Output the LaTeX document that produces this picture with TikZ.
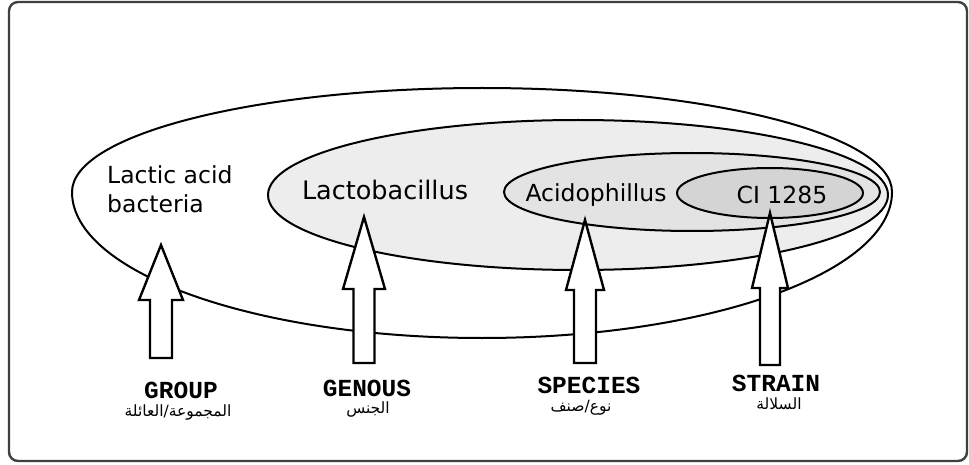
\documentclass[tikz,border=0pt]{standalone}
\usepackage{fontspec}
\setmainfont{DejaVu Sans}
\newfontfamily\labelfont{Liberation Mono}
\newfontfamily\arabicfont[Script=Arabic]{DejaVu Sans}
\TeXXeTstate=1
\begin{document}
\begin{tikzpicture}[x=1pt,y=-1pt,
  ell/.style={draw=black,line width=2pt},
  blockarrow/.style={draw=black,fill=white,line width=2.4pt,line join=miter},
  eltext/.style={inner sep=0pt,font=\fontsize{23.5}{29}\selectfont},
  cat/.style={inner sep=0pt,font=\labelfont\bfseries\fontsize{24.5}{26}\selectfont},
  arab/.style={inner sep=0pt,font=\arabicfont\fontsize{15.5}{18}\selectfont}]
\useasboundingbox (0,0) rectangle (969,465);
\draw[draw=black!75,line width=2.4pt,rounded corners=9pt] (9,2) rectangle (967,461);
% ellipses
\draw[ell,fill=white] (72,192) arc[start angle=180,end angle=360,x radius=410,y radius=104]
  arc[start angle=0,end angle=180,x radius=410,y radius=146] -- cycle;
\draw[ell,fill=black!7] (578,195) ellipse [x radius=310, y radius=75];
\draw[ell,fill=black!11] (692,192) ellipse [x radius=188, y radius=39];
\draw[ell,fill=black!17] (770,193) ellipse [x radius=93, y radius=25];
% arrows
\newcommand\blockarr[6]{% tipx tipy headbase halfhead halfshaft bottom
  \draw[blockarrow] (#1,#2) -- (#1+#4,#3) -- (#1+#5,#3) -- (#1+#5,#6) -- (#1-#5,#6) -- (#1-#5,#3) -- (#1-#4,#3) -- cycle;}
\blockarr{161}{245}{300}{22}{11}{358}
\blockarr{364}{217}{289}{21}{10.5}{363}
\blockarr{585}{220}{290}{19}{11}{363}
\blockarr{770}{213}{288}{18}{10}{365}
% texts
\node[eltext,align=left,anchor=north west] (lab) at (107,165) {Lactic acid\\bacteria};
\node[eltext,font=\fontsize{25.5}{30}\selectfont] (lacto) at (385,190) {Lactobacillus};
\node[eltext] (acido) at (596,195) {Acidophillus};
\node[eltext] (ci) at (782,195) {CI 1285};
\node[cat] (group) at (181,390) {GROUP};
\node[arab] (groupar) at (178,413) {\beginR المجموعة/العائلة\endR};
\node[cat] (genus) at (367,388) {GENOUS};
\node[arab] (genusar) at (368,410) {\beginR الجنس\endR};
\node[cat] (species) at (589,385) {SPECIES};
\node[arab] (speciesar) at (581,408) {\beginR نوع/صنف\endR};
\node[cat] (strain) at (776,383) {STRAIN};
\node[arab] (strainar) at (779,404) {\beginR السلالة\endR};
\end{tikzpicture}
\end{document}
